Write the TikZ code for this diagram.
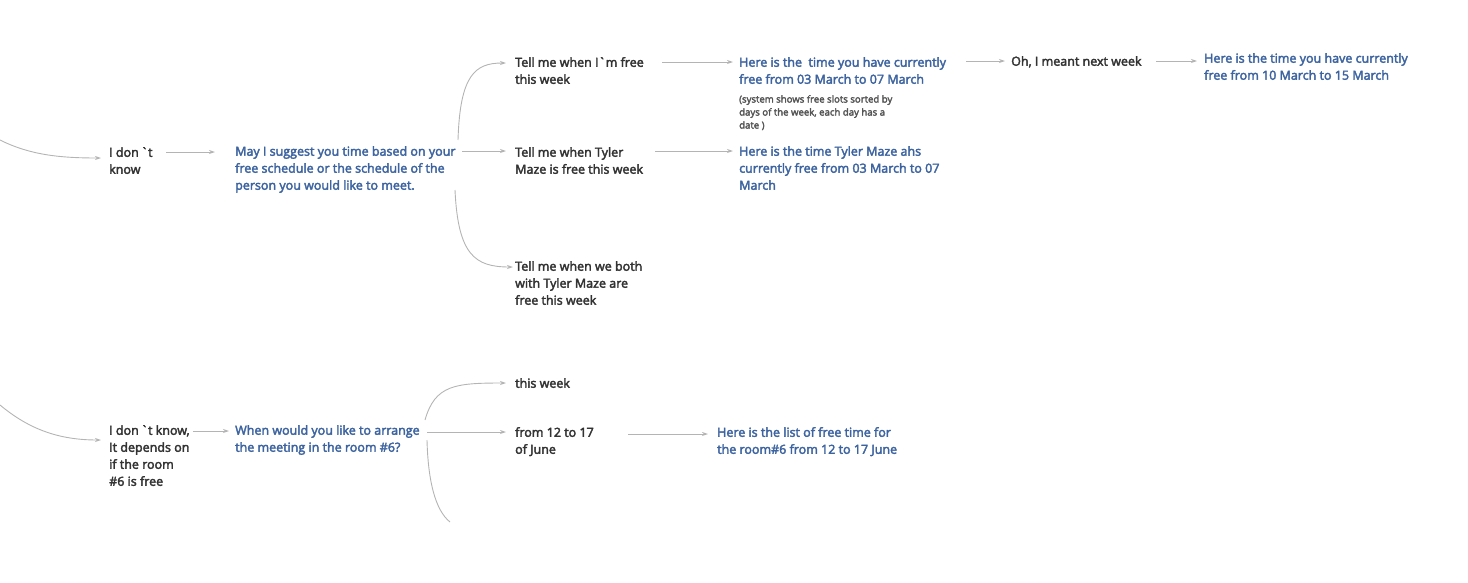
\documentclass[tikz,border=0pt]{standalone}
\usepackage{fontspec}
\setmainfont{Open Sans}[FakeBold=3]
\usetikzlibrary{arrows.meta}
\definecolor{txt}{HTML}{333333}
\definecolor{bot}{HTML}{3D64A0}
\definecolor{ln}{HTML}{B4B4B4}
\definecolor{note}{HTML}{555555}
\newcommand{\bq}{\textasciigrave}
\tikzset{
  user/.style={anchor=north west, inner sep=0pt, align=left, text=txt, font=\fontsize{12.5}{17}\selectfont},
  botmsg/.style={user, text=bot},
  notetxt/.style={anchor=north west, inner sep=0pt, align=left, text=note, font=\fontsize{9.6}{13}\selectfont},
  conn/.style={draw=ln, line width=0.9pt, -{Stealth[length=6pt,width=4pt]}},
  plain/.style={draw=ln, line width=0.9pt}
}
\begin{document}
\begin{tikzpicture}[x=1pt,y=-1pt]
\useasboundingbox (0,0) rectangle (1468,582);
% top row
\node[user] (u1) at (109,147) {I don\,\bq t\\know};
\node[botmsg] (q1) at (235,146) {May I suggest you time based on your\\free schedule or the schedule of the\\person you would like to meet.};
\node[user] (a1) at (515,57) {Tell me when I\bq m free\\this week};
\node[botmsg] (r1) at (739,57) {Here is the\ \ time you have currently\\free from 03 March to 07 March};
\node[notetxt] (n1) at (739,95) {(system shows free slots sorted by\\days of the week, each day has a\\date )};
\node[user] (a1b) at (1011,56) {Oh, I meant next week};
\node[botmsg] (r1b) at (1204,53) {Here is the time you have currently\\free from 10 March to 15 March};
\node[user] (a2) at (515,147) {Tell me when Tyler\\Maze is free this week};
\node[botmsg] (r2) at (739,146) {Here is the time Tyler Maze ahs\\currently free from 03 March to 07\\March};
\node[user] (a3) at (515,261) {Tell me when we both\\with Tyler Maze are\\free this week};
% bottom row
\node[user] (u2) at (109,425) {I don\,\bq t know,\\It depends on\\if the room\\\#6 is free};
\node[botmsg] (q2) at (235,425) {When would you like to arrange\\the meeting in the room \#6?};
\node[user] (b1) at (515,378) {this week};
\node[user] (b2) at (515,427) {from 12 to 17\\of June};
\node[botmsg] (s2) at (717,427) {Here is the list of free time for\\the room\#6 from 12 to 17 June};
% coordinates
\coordinate (in1) at (0,140);
\coordinate (e1) at (101,158);
\coordinate (in2) at (0,405);
\coordinate (e2) at (101,440);
\coordinate (f1) at (458,140);
\coordinate (f1m) at (462,151);
\coordinate (f1d) at (455,190);
\coordinate (t1) at (506,63);
\coordinate (t2) at (506,151);
\coordinate (t3) at (513,267);
\coordinate (f2) at (425,420);
\coordinate (f2m) at (427,432);
\coordinate (f2d) at (427,440);
\coordinate (g1) at (506,383);
\coordinate (g2) at (506,432);
\coordinate (g3) at (450,522);
% connectors
\draw[conn] (in1) .. controls (30,155) and (60,158) .. (e1);
\draw[conn] (166,152) -- (215,152);
\draw[conn] (f1) .. controls (460,75) and (475,63) .. (t1);
\draw[conn] (f1m) -- (t2);
\draw[conn] (f1d) .. controls (458,255) and (475,267) .. (t3);
\draw[conn] (662,62) -- (733,62);
\draw[conn] (966,61) -- (1005,61);
\draw[conn] (1156,61) -- (1197,61);
\draw[conn] (655,151) -- (733,151);
\draw[conn] (in2) .. controls (30,430) and (60,440) .. (e2);
\draw[conn] (193,431) -- (229,431);
\draw[conn] (f2) .. controls (435,385) and (455,383) .. (g1);
\draw[conn] (f2m) -- (g2);
\draw[plain] (f2d) .. controls (428,480) and (435,510) .. (g3);
\draw[conn] (628,434) -- (708,434);
\end{tikzpicture}
\end{document}
